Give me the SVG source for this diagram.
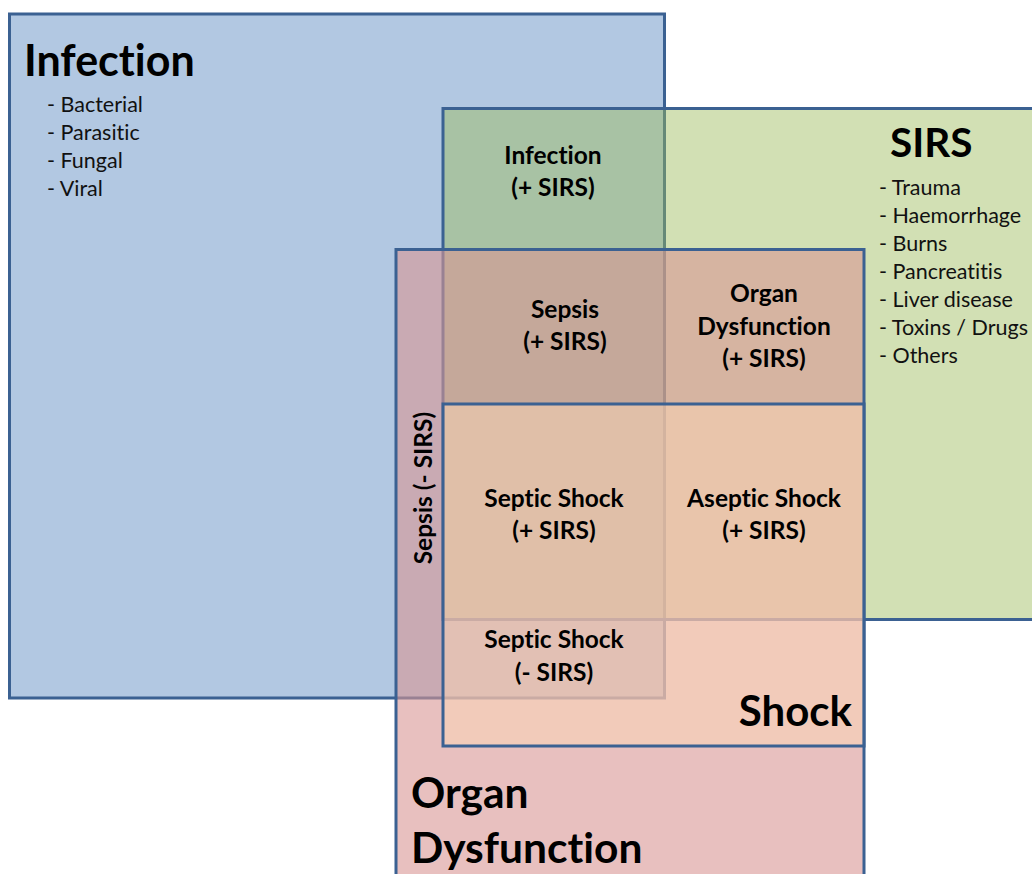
<svg xmlns="http://www.w3.org/2000/svg" width="1032" height="874" viewBox="0 0 1032 874">
<style>
text{font-variant-ligatures:none;font-feature-settings:"liga" 0}
.set{stroke:#3B6192;stroke-width:3}
.title{font-family:Lato,"Liberation Sans",sans-serif;font-weight:bold;fill:#000}
.item{font-family:Lato,"Liberation Sans",sans-serif;font-size:21.5px;fill:#111}
.lbl{font-family:Lato,"Liberation Sans",sans-serif;font-weight:bold;font-size:24.5px;fill:#000;text-anchor:middle}
</style>
<rect width="1032" height="874" fill="#fff"/>
<g id="infection">
<rect class="set" x="9.5" y="14" width="655" height="684" fill="#4F81BD" fill-opacity="0.44"/>
<text class="title" x="24" y="76" font-size="43">Infection</text>
<text class="item" x="47" y="112">- Bacterial</text>
<text class="item" x="47" y="140">- Parasitic</text>
<text class="item" x="47" y="168">- Fungal</text>
<text class="item" x="47" y="196">- Viral</text>
</g>
<g id="sirs">
<rect class="set" x="443" y="108.5" width="600" height="511" fill="#9BBB59" fill-opacity="0.45"/>
<text class="title" x="890" y="157" font-size="40.5">SIRS</text>
<text class="item" x="879" y="195">- Trauma</text>
<text class="item" x="879" y="223">- Haemorrhage</text>
<text class="item" x="879" y="251">- Burns</text>
<text class="item" x="879" y="279">- Pancreatitis</text>
<text class="item" x="879" y="307">- Liver disease</text>
<text class="item" x="879" y="335">- Toxins / Drugs</text>
<text class="item" x="879" y="363">- Others</text>
</g>
<g id="organ-dysfunction">
<rect class="set" x="396" y="249.5" width="468" height="640" fill="#D99694" fill-opacity="0.6"/>
<text class="title" x="411" y="808" font-size="42.5">Organ</text>
<text class="title" x="411" y="863" font-size="42.5">Dysfunction</text>
</g>
<g id="shock">
<rect class="set" x="443" y="404" width="421" height="342" fill="#FBD5B5" fill-opacity="0.5"/>
<text class="title" x="852" y="726" font-size="42" text-anchor="end">Shock</text>
</g>
<g id="label-infection-sirs">
<text class="lbl" x="553" y="164">Infection</text>
<text class="lbl" x="553" y="196">(+ SIRS)</text>
</g>
<g id="label-sepsis-sirs">
<text class="lbl" x="565" y="318">Sepsis</text>
<text class="lbl" x="565" y="350">(+ SIRS)</text>
</g>
<g id="label-organ-dysfunction-sirs">
<text class="lbl" x="764" y="302">Organ</text>
<text class="lbl" x="764" y="335">Dysfunction</text>
<text class="lbl" x="764" y="367">(+ SIRS)</text>
</g>
<g id="label-sepsis-no-sirs">
<text class="lbl" transform="translate(432,488) rotate(-90)">Sepsis (- SIRS)</text>
</g>
<g id="label-septic-shock-sirs">
<text class="lbl" x="554" y="507">Septic Shock</text>
<text class="lbl" x="554" y="539">(+ SIRS)</text>
</g>
<g id="label-aseptic-shock-sirs">
<text class="lbl" x="764" y="507">Aseptic Shock</text>
<text class="lbl" x="764" y="539">(+ SIRS)</text>
</g>
<g id="label-septic-shock-no-sirs">
<text class="lbl" x="554" y="648">Septic Shock</text>
<text class="lbl" x="554" y="681">(- SIRS)</text>
</g>
<g id="connectors"/>
</svg>
